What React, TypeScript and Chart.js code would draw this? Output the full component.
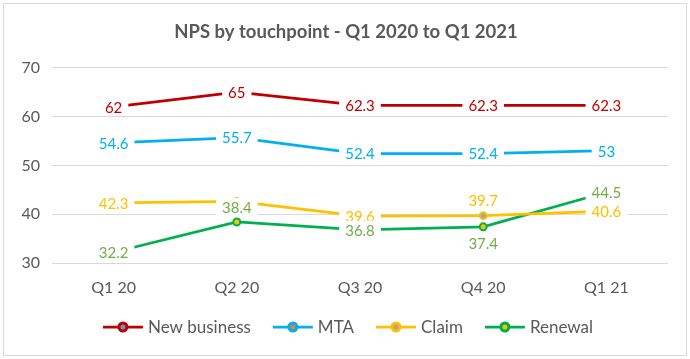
import React, { useEffect, useRef } from "react";
import { Chart, registerables } from "chart.js";

Chart.register(...registerables);

const titleText = "NPS by touchpoint - Q1 2020 to Q1 2021";
const categories = ["Q1 20", "Q2 20", "Q3 20", "Q4 20", "Q1 21"];
const seriesNames = ["New business", "MTA", "Claim", "Renewal"];
const newBusiness = [62, 65, 62.3, 62.3, 62.3];
const mta = [54.6, 55.7, 52.4, 52.4, 53];
const claim = [42.3, 42.6, 39.6, 39.7, 40.6];
const renewal = [32.2, 38.4, 36.8, 37.4, 44.5];
const yMin = 30;
const yMax = 70;
const yStep = 10;

// label placement per point: c = on point, t = above, b = below, n = none
const newBusinessLabelPos = ["c", "c", "c", "c", "c"];
const mtaLabelPos = ["c", "c", "c", "c", "c"];
const claimLabelPos = ["c", "n", "c", "t", "c"];
const renewalLabelPos = ["c", "t", "c", "b", "c"];

const lineColors = ["#C00000", "#00B0F0", "#FFC000", "#00B050"];
const markerFills = ["#5B9BD5", "#ED7D31", "#A5A5A5", "#FFC000"];
const labelColors = ["#C00000", "#00B0F0", "#FFC000", "#70AD47"];
const textGray = "#595959";
const FONT = "Lato, 'Open Sans', sans-serif";

const seriesValues = [newBusiness, mta, claim, renewal];
const labelPositions = [newBusinessLabelPos, mtaLabelPos, claimLabelPos, renewalLabelPos];

const decorPlugin = {
  id: "decor",
  beforeDraw(chart: any) {
    const ctx = chart.ctx;
    ctx.save();
    ctx.fillStyle = "#ffffff";
    ctx.fillRect(0, 0, chart.width, chart.height);
    ctx.strokeStyle = "#d9d9d9";
    ctx.lineWidth = 1;
    ctx.strokeRect(3.5, 3.5, 683, 352);
    ctx.restore();
  },
  afterDatasetsDraw(chart: any) {
    const ctx = chart.ctx;
    ctx.save();
    ctx.font = `15px ${FONT}`;
    ctx.textAlign = "center";
    ctx.textBaseline = "middle";
    chart.data.datasets.forEach((ds: any, d: number) => {
      const meta = chart.getDatasetMeta(d);
      meta.data.forEach((pt: any, i: number) => {
        const pos = labelPositions[d][i];
        if (pos === "n") return;
        let y = pt.y;
        if (pos === "t") y -= 15;
        if (pos === "b") y += 16;
        const txt = String(ds.data[i]);
        const w = ctx.measureText(txt).width;
        ctx.fillStyle = "#ffffff";
        ctx.fillRect(pt.x - w / 2 - 6, y - 9, w + 12, 18);
        ctx.fillStyle = labelColors[d];
        ctx.fillText(txt, pt.x, y + 1);
      });
    });
    ctx.restore();
  },
  afterDraw(chart: any) {
    const ctx = chart.ctx;
    ctx.save();
    // title
    ctx.font = `bold 18.5px ${FONT}`;
    ctx.fillStyle = textGray;
    ctx.textAlign = "center";
    ctx.textBaseline = "middle";
    ctx.fillText(titleText, 346, 32);
    // legend
    ctx.font = `17px ${FONT}`;
    const markerW = 40;
    const gapText = 5;
    const gapItem = 22;
    const widths = seriesNames.map((n) => ctx.measureText(n).width);
    const total =
      widths.reduce((a, w) => a + markerW + gapText + w, 0) + gapItem * (seriesNames.length - 1);
    let x = 348 - total / 2;
    const y = 327;
    ctx.textAlign = "left";
    seriesNames.forEach((n, i) => {
      ctx.strokeStyle = lineColors[i];
      ctx.lineWidth = 2.75;
      ctx.beginPath();
      ctx.moveTo(x, y);
      ctx.lineTo(x + markerW, y);
      ctx.stroke();
      ctx.beginPath();
      ctx.arc(x + markerW / 2, y, 4, 0, Math.PI * 2);
      ctx.fillStyle = markerFills[i];
      ctx.fill();
      ctx.lineWidth = 3;
      ctx.stroke();
      ctx.fillStyle = textGray;
      ctx.fillText(n, x + markerW + gapText, y + 1);
      x += markerW + gapText + widths[i] + gapItem;
    });
    ctx.restore();
  },
};

export default function App() {
  const ref = useRef<HTMLCanvasElement | null>(null);
  useEffect(() => {
    if (!ref.current) return;
    Chart.defaults.font.family = FONT;
    const chart = new Chart(ref.current, {
      type: "line",
      data: {
        labels: categories,
        datasets: seriesNames.map((name, i) => ({
          label: name,
          data: seriesValues[i],
          borderColor: lineColors[i],
          backgroundColor: markerFills[i],
          borderWidth: 2.75,
          pointRadius: 3.5,
          pointBorderWidth: 2,
          pointBackgroundColor: markerFills[i],
          pointBorderColor: lineColors[i],
          tension: 0,
        })),
      },
      options: {
        animation: false,
        responsive: false,
        devicePixelRatio: 1,
        layout: { padding: { left: 0, right: 22, top: 67.7, bottom: 56 } },
        plugins: {
          legend: { display: false },
          title: { display: false },
          tooltip: { enabled: false },
        },
        scales: {
          x: {
            offset: true,
            grid: { display: false, drawTicks: false },
            border: { display: false },
            ticks: { color: textGray, font: { size: 16, family: FONT }, padding: 15 },
            afterFit: (s: any) => {
              s.height = 40;
            },
          },
          y: {
            min: yMin,
            max: yMax,
            grid: { color: "#d9d9d9", drawTicks: false, lineWidth: 1 },
            border: { display: false },
            ticks: {
              stepSize: yStep,
              color: textGray,
              font: { size: 16, family: FONT },
              padding: 12,
            },
            afterFit: (s: any) => {
              s.width = 52;
            },
          },
        },
      },
      plugins: [decorPlugin],
    });
    return () => chart.destroy();
  }, []);
  return (
    <div style={{ position: "fixed", left: 0, top: 0, width: 690, height: 359, background: "#fff" }}>
      <canvas ref={ref} width={690} height={359} style={{ display: "block" }} />
    </div>
  );
}
